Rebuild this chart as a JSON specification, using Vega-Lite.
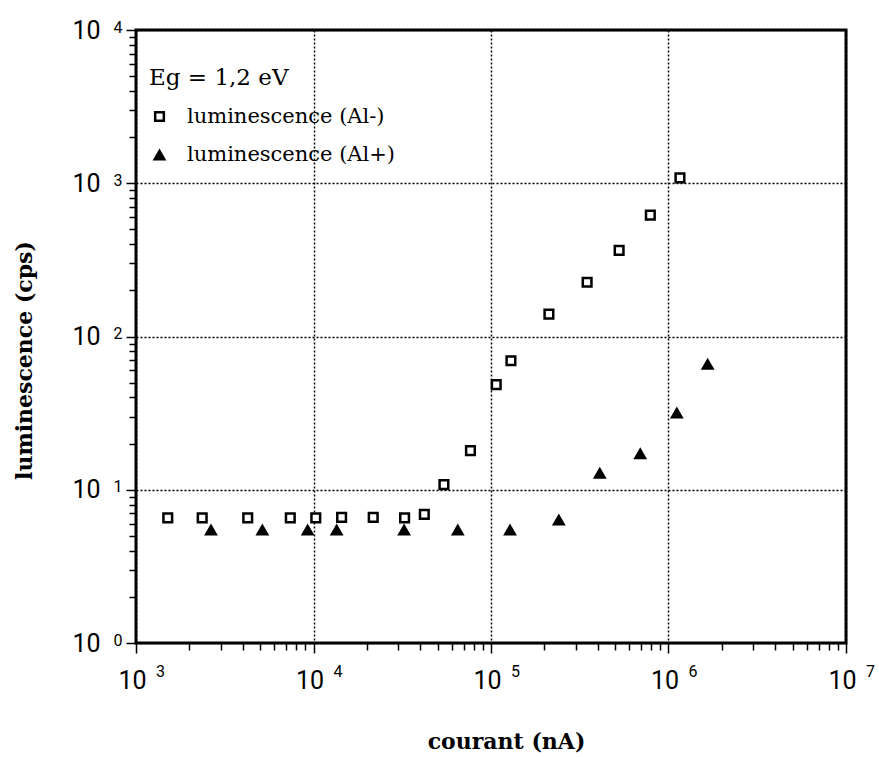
{
  "$schema": "https://vega.github.io/schema/vega-lite/v6.json",
  "width": 710,
  "height": 613,
  "autosize": {"type": "none"},
  "padding": {"left": 136, "top": 30, "right": 33, "bottom": 114},
  "background": "white",
  "config": {
    "view": {"stroke": "black", "strokeWidth": 3},
    "axis": {"domain": false, "tickColor": "black", "tickWidth": 1.5, "labelColor": "black", "titleColor": "black"}
  },
  "datasets": {
    "d": [
      {"courant": 1510, "lum": 6.55, "series": "luminescence (Al-)"},
      {"courant": 2360, "lum": 6.55, "series": "luminescence (Al-)"},
      {"courant": 4260, "lum": 6.55, "series": "luminescence (Al-)"},
      {"courant": 7400, "lum": 6.55, "series": "luminescence (Al-)"},
      {"courant": 10300, "lum": 6.55, "series": "luminescence (Al-)"},
      {"courant": 14400, "lum": 6.6, "series": "luminescence (Al-)"},
      {"courant": 21700, "lum": 6.6, "series": "luminescence (Al-)"},
      {"courant": 32600, "lum": 6.55, "series": "luminescence (Al-)"},
      {"courant": 42100, "lum": 6.9, "series": "luminescence (Al-)"},
      {"courant": 54300, "lum": 10.8, "series": "luminescence (Al-)"},
      {"courant": 76600, "lum": 18.0, "series": "luminescence (Al-)"},
      {"courant": 107000, "lum": 48.5, "series": "luminescence (Al-)"},
      {"courant": 129500, "lum": 69.5, "series": "luminescence (Al-)"},
      {"courant": 212000, "lum": 140, "series": "luminescence (Al-)"},
      {"courant": 348000, "lum": 226, "series": "luminescence (Al-)"},
      {"courant": 527000, "lum": 365, "series": "luminescence (Al-)"},
      {"courant": 790000, "lum": 620, "series": "luminescence (Al-)"},
      {"courant": 1160000, "lum": 1085, "series": "luminescence (Al-)"},
      {"courant": 2645, "lum": 5.5, "series": "luminescence (Al+)"},
      {"courant": 5150, "lum": 5.5, "series": "luminescence (Al+)"},
      {"courant": 9270, "lum": 5.5, "series": "luminescence (Al+)"},
      {"courant": 13500, "lum": 5.5, "series": "luminescence (Al+)"},
      {"courant": 32400, "lum": 5.5, "series": "luminescence (Al+)"},
      {"courant": 65000, "lum": 5.5, "series": "luminescence (Al+)"},
      {"courant": 128000, "lum": 5.5, "series": "luminescence (Al+)"},
      {"courant": 241000, "lum": 6.4, "series": "luminescence (Al+)"},
      {"courant": 410000, "lum": 12.9, "series": "luminescence (Al+)"},
      {"courant": 693000, "lum": 17.3, "series": "luminescence (Al+)"},
      {"courant": 1114000, "lum": 31.9, "series": "luminescence (Al+)"},
      {"courant": 1662000, "lum": 66.4, "series": "luminescence (Al+)"}
    ]
  },
  "data": {"name": "d"},
  "resolve": {"axis": {"x": "independent", "y": "independent"}},
  "layer": [
    {
      "mark": {"type": "point", "opacity": 0},
      "encoding": {
        "x": {"field": "courant", "type": "quantitative",
          "scale": {"type": "log", "domain": [1000, 10000000], "nice": false},
          "axis": {"orient": "bottom", "values": [2000,3000,4000,5000,6000,7000,8000,9000,20000,30000,40000,50000,60000,70000,80000,90000,200000,300000,400000,500000,600000,700000,800000,900000,2000000,3000000,4000000,5000000,6000000,7000000,8000000,9000000],
            "labels": false, "grid": false, "tickSize": 7, "title": null}},
        "y": {"field": "lum", "type": "quantitative",
          "scale": {"type": "log", "domain": [1, 10000], "nice": false},
          "axis": {"orient": "left", "values": [2,3,4,5,6,7,8,9,20,30,40,50,60,70,80,90,200,300,400,500,600,700,800,900,2000,3000,4000,5000,6000,7000,8000,9000],
            "labels": false, "grid": false, "tickSize": 7, "title": null}}
      }
    },
    {
      "mark": {"type": "point", "opacity": 0},
      "encoding": {
        "x": {"field": "courant", "type": "quantitative",
          "scale": {"type": "log", "domain": [1000, 10000000], "nice": false},
          "axis": {"orient": "bottom", "values": [1000, 10000, 100000, 1000000, 10000000],
            "labelExpr": "'' + round(log(datum.value)/LN10)", "ticks": false, "tickSize": 0, "grid": false,
            "labelFont": "Roboto", "labelFontSize": 16, "labelPadding": 20, "labelOffset": 24,
            "labelAlign": "center", "labelBaseline": "top", "labelFlush": false, "labelOverlap": false, "title": null}},
        "y": {"field": "lum", "type": "quantitative",
          "scale": {"type": "log", "domain": [1, 10000], "nice": false},
          "axis": {"orient": "left", "values": [1, 10, 100, 1000, 10000],
            "labelExpr": "'' + round(log(datum.value)/LN10)", "ticks": false, "tickSize": 0, "grid": false,
            "labelFont": "Roboto", "labelFontSize": 16, "labelPadding": 14, "labelOffset": -3,
            "labelAlign": "right", "labelBaseline": "middle", "labelFlush": false, "labelOverlap": false, "title": null}}
      }
    },
    {
      "mark": {"type": "point", "filled": false, "strokeWidth": 2.5, "opacity": 1},
      "encoding": {
        "x": {"field": "courant", "type": "quantitative",
          "scale": {"type": "log", "domain": [1000, 10000000], "nice": false},
          "axis": {"orient": "bottom", "values": [1000, 10000, 100000, 1000000, 10000000],
            "labelExpr": "'10'", "tickSize": 10, "grid": true, "gridColor": "black", "gridDash": [2, 2], "gridWidth": 1.5, "gridOpacity": 1,
            "labelFont": "Roboto", "labelFontSize": 25, "labelPadding": 15, "labelOffset": -4,
            "labelAlign": "center", "labelBaseline": "top", "labelFlush": false, "labelOverlap": false,
            "title": "courant (nA)", "titleFont": "DejaVu Serif", "titleFontWeight": "bold", "titleFontSize": 22,
            "titleX": 370, "titleY": 105, "titleAlign": "center", "titleBaseline": "alphabetic"}},
        "y": {"field": "lum", "type": "quantitative",
          "scale": {"type": "log", "domain": [1, 10000], "nice": false},
          "axis": {"orient": "left", "values": [1, 10, 100, 1000, 10000],
            "labelExpr": "'10'", "tickSize": 10, "grid": true, "gridColor": "black", "gridDash": [2, 2], "gridWidth": 1.5, "gridOpacity": 1,
            "labelFont": "Roboto", "labelFontSize": 25, "labelPadding": 26,
            "labelAlign": "right", "labelBaseline": "middle", "labelFlush": false, "labelOverlap": false,
            "title": "luminescence (cps)", "titleFont": "DejaVu Serif", "titleFontWeight": "bold", "titleFontSize": 22,
            "titleX": -105, "titleY": 330, "titleAngle": -90, "titleAlign": "center", "titleBaseline": "alphabetic"}},
        "shape": {"field": "series", "type": "nominal", "title": "Eg = 1,2 eV",
          "scale": {"domain": ["luminescence (Al-)", "luminescence (Al+)"], "range": ["square", "triangle-up"]},
          "legend": {"orient": "none", "legendX": 13, "legendY": 37, "padding": 0,
            "titleFont": "DejaVu Serif", "titleFontSize": 23, "titleFontWeight": "normal", "titleColor": "black", "titlePadding": 16, "titleLimit": 400,
            "labelFont": "DejaVu Serif", "labelFontSize": 21, "labelColor": "black", "labelOffset": 17, "labelLimit": 400, "rowPadding": 16,
            "symbolStrokeWidth": 2.5, "symbolOpacity": 1}},
        "fill": {"field": "series", "type": "nominal", "title": "Eg = 1,2 eV",
          "scale": {"domain": ["luminescence (Al-)", "luminescence (Al+)"], "range": ["white", "black"]}},
        "stroke": {"field": "series", "type": "nominal", "title": "Eg = 1,2 eV",
          "scale": {"domain": ["luminescence (Al-)", "luminescence (Al+)"], "range": ["black", "transparent"]}},
        "size": {"field": "series", "type": "nominal", "title": "Eg = 1,2 eV",
          "scale": {"domain": ["luminescence (Al-)", "luminescence (Al+)"], "range": [75, 190]}}
      }
    }
  ]
}
